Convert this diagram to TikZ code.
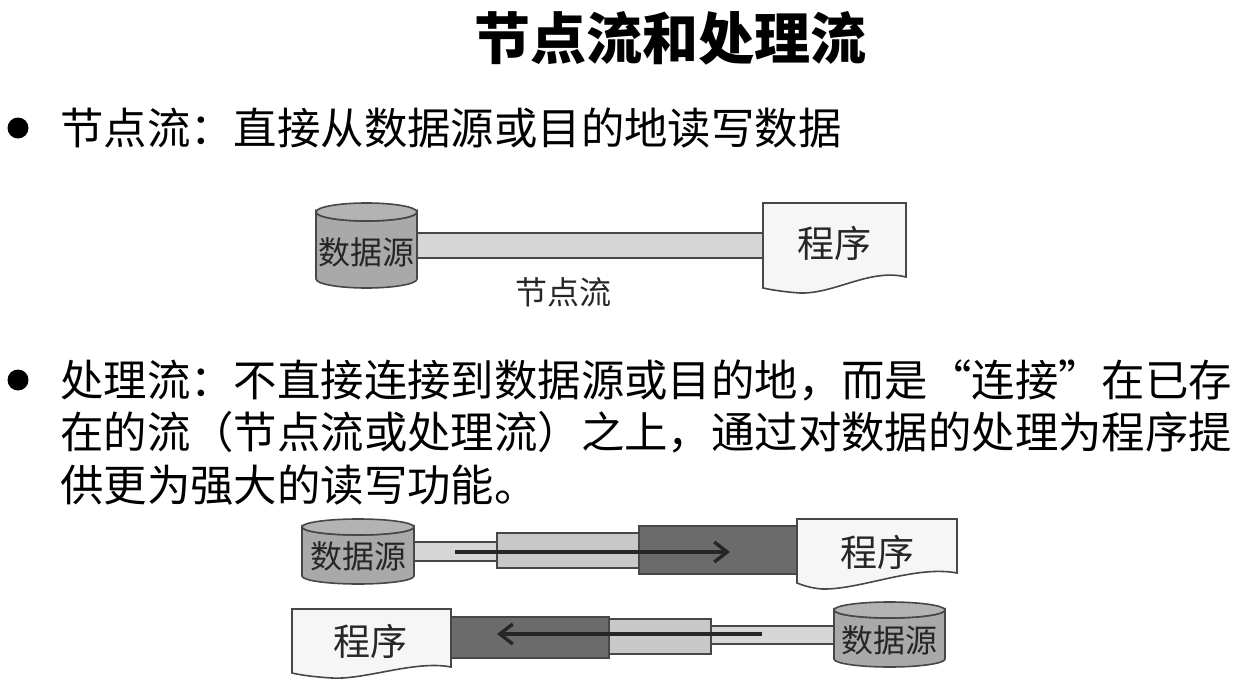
\documentclass[tikz,border=0pt]{standalone}
\usepackage{fontspec}
\setmainfont{Noto Sans CJK SC}
\usetikzlibrary{arrows.meta}
\XeTeXlinebreaklocale "zh"
\XeTeXlinebreakskip=0pt plus 1pt

\definecolor{edgegray}{HTML}{474747}
\definecolor{dbgray}{HTML}{A9A9A9}
\definecolor{dbtopgray}{HTML}{B3B3B3}
\definecolor{thingray}{HTML}{D6D6D6}
\definecolor{midgray}{HTML}{C8C8C8}
\definecolor{darkgray}{HTML}{6B6B6B}
\definecolor{docgray}{HTML}{F6F6F6}
\definecolor{labelgray}{HTML}{262626}

\tikzset{
	headline/.style={font=\fontsize{28}{32}\selectfont\bfseries},
	bodytext/.style={font=\fontsize{21.7}{26}\selectfont, anchor=west, inner sep=0pt},
	bulletdot/.style={circle, fill=black, inner sep=0pt, minimum size=10.5pt},
	dbbody/.style={draw=edgegray, fill=dbgray, line width=0.8pt},
	dbtop/.style={draw=edgegray, fill=dbtopgray, line width=0.8pt},
	pipethin/.style={draw=edgegray, fill=thingray, line width=0.8pt},
	pipemid/.style={draw=edgegray, fill=midgray, line width=0.8pt},
	pipedark/.style={draw=edgegray, fill=darkgray, line width=0.8pt},
	docbox/.style={draw=edgegray, fill=docgray, line width=0.8pt},
	dblabel/.style={font=\fontsize{16}{18}\selectfont, text=labelgray, inner sep=0pt},
	doclabel/.style={font=\fontsize{18.5}{20}\selectfont, text=labelgray, inner sep=0pt},
	flowarrow/.style={draw=labelgray, line width=1.7pt, -{Straight Barb[length=6.5pt,width=10pt]}}
}

\begin{document}
\begin{tikzpicture}[x=0.5pt, y=-0.5pt]
	\useasboundingbox (0,0) rectangle (1239,685);
	\node[headline] (title) at (670,38) {节点流和处理流};

	% first bullet
	\node[bulletdot] (dot1) at (18,128) {};
	\node[bodytext] (nodetext) at (60,128) {节点流：直接从数据源或目的地读写数据};

	% node stream
	\draw[pipethin] (417,233) rectangle (763,258);
	\filldraw[dbbody] (316,212) -- (316,279) arc (180:0:50.5 and 9) -- (417,212) arc (0:180:50.5 and 9) -- cycle;
	\draw[dbtop] (366.5,212) ellipse [x radius=50.5, y radius=9];
	\node[dblabel] (src1) at (366.5,252) {数据源};
	\draw[docbox] (763,203) -- (906,203) -- (906,277) .. controls (870,268) and (835,294) .. (800,293) .. controls (785,292) and (772,290) .. (763,288) -- cycle;
	\node[doclabel] (prog1) at (834,243) {程序};
	\node[dblabel] (nodeflow) at (563,292) {节点流};

	% second bullet
	\node[bulletdot] (dot2) at (18,380) {};
	\node[bodytext] (proctext1) at (60,380) {\makebox[589pt][s]{处理流：不直接连接到数据源或目的地，而是“连接”在已存}};
	\node[bodytext] (proctext2) at (60,432) {\makebox[589pt][s]{在的流（节点流或处理流）之上，通过对数据的处理为程序提}};
	\node[bodytext] (proctext3) at (60,485) {供更为强大的读写功能。};

	% processing stream, reading
	\draw[pipethin] (414,542) rectangle (497,561);
	\draw[pipemid] (497,533) rectangle (639,568);
	\draw[pipedark] (639,526) rectangle (797,574);
	\filldraw[dbbody] (302,527) -- (302,576) arc (180:0:56 and 8) -- (414,527) arc (0:180:56 and 8) -- cycle;
	\draw[dbtop] (358,527) ellipse [x radius=56, y radius=8];
	\node[dblabel] (src2) at (358,556) {数据源};
	\draw[docbox] (797,519) -- (957,519) -- (957,573) .. controls (915,565) and (860,590) .. (822,589) .. controls (810,588) and (802,585) .. (797,583) -- cycle;
	\node[doclabel] (prog2) at (877,552) {程序};
	\coordinate (readin) at (455,552);
	\coordinate (readout) at (730,552);
	\draw[flowarrow] (readin) -- (readout);

	% processing stream, writing
	\draw[pipedark] (451,617) rectangle (609,658);
	\draw[pipemid] (609,619) rectangle (711,654);
	\draw[pipethin] (711,626) rectangle (834,644);
	\draw[docbox] (292,609) -- (451,609) -- (451,667) .. controls (415,660) and (365,680) .. (332,678) .. controls (315,677) and (300,675) .. (292,673) -- cycle;
	\node[doclabel] (prog3) at (370,641) {程序};
	\filldraw[dbbody] (834,610) -- (834,659) arc (180:0:55.5 and 8) -- (945,610) arc (0:180:55.5 and 8) -- cycle;
	\draw[dbtop] (889.5,610) ellipse [x radius=55.5, y radius=8];
	\node[dblabel] (src3) at (889.5,640) {数据源};
	\coordinate (writein) at (762,634);
	\coordinate (writeout) at (497,634);
	\draw[flowarrow] (writein) -- (writeout);
\end{tikzpicture}
\end{document}
